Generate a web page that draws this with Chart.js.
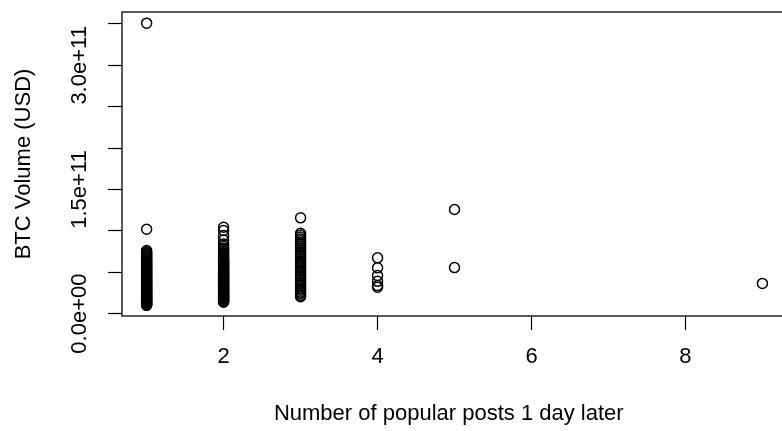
<!DOCTYPE html>
<html>
<head>
<meta charset="utf-8">
<script src="https://cdn.jsdelivr.net/npm/chart.js@4/dist/chart.umd.min.js"></script>
<style>
  html, body { margin: 0; padding: 0; background: #fff; overflow: hidden; }
  #grafico { display: block; }
</style>
</head>
<body>
<canvas id="grafico" width="782" height="431"></canvas>
<script>
// número de posts populares 1 día después (eje x) y volumen BTC en USD (eje y)
const postsColumna = [1, 2, 3, 4, 5, 9];

const volumen1 = [
    10.0e9, 10.6e9, 11.3e9, 12.1e9, 12.8e9, 13.4e9, 14.2e9, 15.0e9, 15.7e9, 16.5e9,
    17.2e9, 18.0e9, 18.9e9, 19.6e9, 20.4e9, 21.3e9, 22.1e9, 22.8e9, 23.7e9, 24.5e9,
    25.4e9, 26.2e9, 27.0e9, 27.9e9, 28.8e9, 29.6e9, 30.5e9, 31.4e9, 32.2e9, 33.1e9,
    34.0e9, 34.9e9, 35.8e9, 36.6e9, 37.5e9, 38.5e9, 39.4e9, 40.2e9, 41.1e9, 42.1e9,
    43.0e9, 43.9e9, 44.8e9, 45.8e9, 46.7e9, 47.6e9, 48.6e9, 49.5e9, 50.4e9, 51.4e9,
    52.3e9, 53.3e9, 54.2e9, 55.2e9, 56.1e9, 57.1e9, 58.0e9, 59.0e9, 60.0e9, 61.0e9,
    62.0e9, 63.1e9, 64.1e9, 65.2e9, 66.3e9, 67.5e9, 68.6e9, 69.8e9, 71.0e9, 72.3e9,
    73.6e9, 74.9e9, 76.2e9, 102.0e9, 351.0e9
];

const volumen2 = [
    13.7e9, 14.5e9, 15.3e9, 16.2e9, 17.0e9, 17.9e9, 18.7e9, 19.6e9, 20.4e9, 21.3e9,
    22.2e9, 23.0e9, 23.9e9, 24.8e9, 25.7e9, 26.6e9, 27.5e9, 28.4e9, 29.3e9, 30.2e9,
    31.1e9, 32.0e9, 33.0e9, 33.9e9, 34.8e9, 35.8e9, 36.7e9, 37.7e9, 38.6e9, 39.6e9,
    40.5e9, 41.5e9, 42.5e9, 43.4e9, 44.4e9, 45.4e9, 46.4e9, 47.4e9, 48.4e9, 49.4e9,
    50.4e9, 51.5e9, 52.5e9, 53.6e9, 54.6e9, 55.7e9, 56.8e9, 57.9e9, 59.0e9, 60.1e9,
    61.3e9, 62.5e9, 63.7e9, 64.9e9, 66.2e9, 67.5e9, 68.9e9, 70.4e9, 71.9e9, 73.5e9,
    75.2e9, 77.0e9, 79.0e9, 81.5e9, 84.2e9, 89.0e9, 94.4e9, 100.4e9, 104.4e9
];

const volumen3 = [
    20.4e9, 22.1e9, 24.3e9, 26.0e9, 28.2e9, 30.1e9, 32.4e9, 34.3e9, 36.5e9, 38.2e9,
    40.6e9, 42.5e9, 44.9e9, 46.8e9, 49.0e9, 51.3e9, 53.1e9, 55.4e9, 57.6e9, 59.5e9,
    61.9e9, 63.8e9, 66.0e9, 68.2e9, 70.1e9, 72.5e9, 74.6e9, 76.8e9, 79.0e9, 81.2e9,
    83.5e9, 85.7e9, 88.0e9, 90.3e9, 92.6e9, 94.9e9, 97.0e9, 115.7e9
];

const volumen4 = [67.4e9, 55.3e9, 46.0e9, 39.0e9, 33.9e9, 31.8e9];
const volumen5 = [125.8e9, 55.6e9];
const volumen9 = [36.5e9];

const ticksX = [2, 4, 6, 8];
const ticksY = [0, 5e10, 1e11, 1.5e11, 2e11, 2.5e11, 3e11, 3.5e11];
const etiquetasY = ['0.0e+00', '', '', '1.5e+11', '', '', '3.0e+11', ''];

const volumenes = [volumen1, volumen2, volumen3, volumen4, volumen5, volumen9];

window.addEventListener('DOMContentLoaded', () => {

    const fuente = { family: "'Liberation Sans', Arial, Helvetica, sans-serif", size: 22 };

    const puntos = [];
    volumenes.forEach((lista, i) => {
        lista.forEach((v) => puntos.push({ x: postsColumna[i], y: v }));
    });

    // marco del área de gráfico (el borde derecho queda fuera del lienzo)
    const marco = {
        id: 'marco',
        afterDatasetsDraw(chart) {
            const { ctx, chartArea } = chart;
            ctx.save();
            ctx.strokeStyle = '#000';
            ctx.lineWidth = 1.3;
            ctx.strokeRect(chartArea.left, chartArea.top, chartArea.right - chartArea.left + 20, chartArea.bottom - chartArea.top);
            ctx.restore();
        }
    };

    const ctx = document.getElementById('grafico').getContext('2d');

    new Chart(ctx, {
        type: 'scatter',
        data: {
            datasets: [{
                data: puntos,
                pointStyle: 'circle',
                pointRadius: 5,
                pointHoverRadius: 5,
                borderWidth: 1.5,
                borderColor: '#000',
                backgroundColor: 'rgba(0,0,0,0)'
            }]
        },
        options: {
            responsive: false,
            devicePixelRatio: 1,
            animation: false,
            events: [],
            layout: { padding: { top: 12, right: 0, left: 0, bottom: 0 } },
            plugins: { legend: { display: false }, tooltip: { enabled: false } },
            scales: {
                x: {
                    type: 'linear',
                    min: 0.68,
                    max: 9.17,
                    afterBuildTicks: (scale) => { scale.ticks = ticksX.map((v) => ({ value: v })); },
                    afterFit: (scale) => {
                        scale.height = 115;
                        scale.paddingLeft = 0;
                        scale.paddingRight = 0;
                    },
                    border: { display: false },
                    grid: { drawOnChartArea: false, drawTicks: true, tickLength: 14, tickColor: '#000', tickWidth: 1.2 },
                    ticks: { color: '#000', font: fuente, padding: 14, autoSkip: false, maxRotation: 0, callback: (v) => String(v) },
                    title: { display: true, text: 'Number of popular posts 1 day later', color: '#000', font: fuente, padding: { top: 0, bottom: 4 } }
                },
                y: {
                    type: 'linear',
                    min: -2.9e9,
                    max: 3.645e11,
                    afterBuildTicks: (scale) => { scale.ticks = ticksY.map((v) => ({ value: v })); },
                    afterFit: (scale) => {
                        scale.width = 122;
                        scale.paddingTop = 0;
                        scale.paddingBottom = 0;
                    },
                    border: { display: false },
                    grid: { drawOnChartArea: false, drawTicks: true, tickLength: 14, tickColor: '#000', tickWidth: 1.2 },
                    ticks: {
                        color: '#000', font: fuente, padding: -12, autoSkip: false,
                        minRotation: 90, maxRotation: 90, crossAlign: 'center',
                        callback: (v, i) => etiquetasY[i]
                    },
                    title: { display: true, text: 'BTC Volume (USD)', color: '#000', font: fuente, padding: { top: 11, bottom: 0 } }
                }
            }
        },
        plugins: [marco]
    });
});
</script>
</body>
</html>
